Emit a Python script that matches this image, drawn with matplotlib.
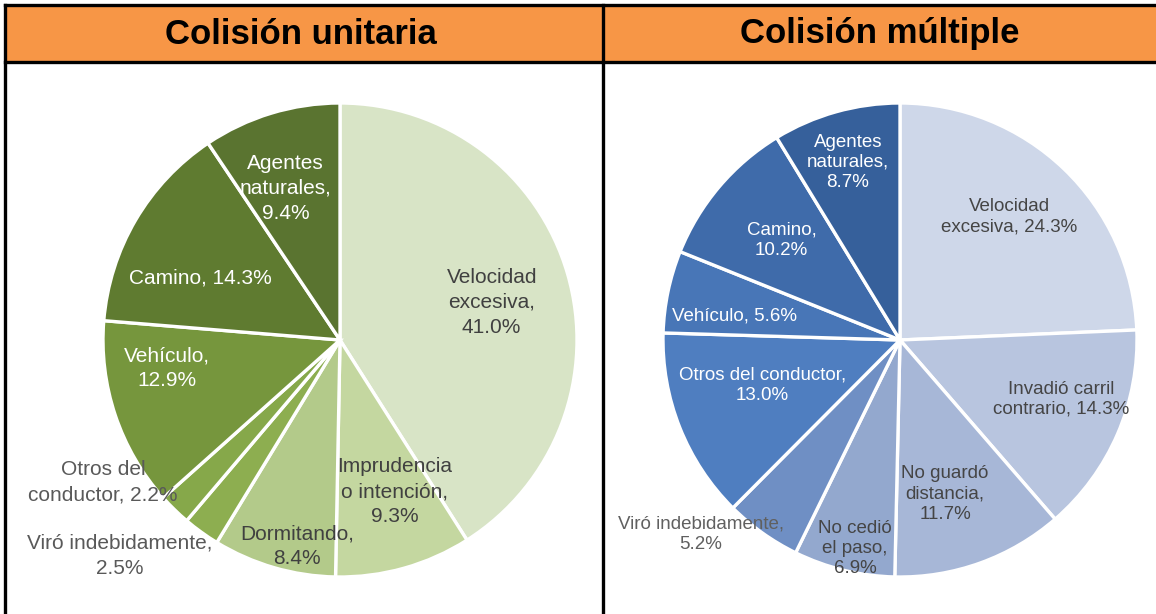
import matplotlib
matplotlib.use("Agg")
import matplotlib.pyplot as plt
from matplotlib.patches import Rectangle
from matplotlib.lines import Line2D

# ---------------- data ----------------
titles = ["Colisión unitaria", "Colisión múltiple"]

uni_labels = ["Velocidad\nexcesiva,\n41.0%", "Imprudencia\no intención,\n9.3%", "Dormitando,\n8.4%",
              "Viró indebidamente,\n2.5%", "Otros del\nconductor, 2.2%", "Vehículo,\n12.9%",
              "Camino, 14.3%", "Agentes\nnaturales,\n9.4%"]
uni_values = [41.0, 9.3, 8.4, 2.5, 2.2, 12.9, 14.3, 9.4]

mul_labels = ["Velocidad\nexcesiva, 24.3%", "Invadió carril\ncontrario, 14.3%", "No guardó\ndistancia,\n11.7%",
              "No cedió\nel paso,\n6.9%", "Viró indebidamente,\n5.2%", "Otros del conductor,\n13.0%",
              "Vehículo, 5.6%", "Camino,\n10.2%", "Agentes\nnaturales,\n8.7%"]
mul_values = [24.3, 14.3, 11.7, 6.9, 5.2, 13.0, 5.6, 10.2, 8.7]

# ---------------- styles ----------------
uni_colors = ["#D8E4C6", "#C4D7A0", "#B3CA8A", "#8DAE50", "#86A84A", "#76963D", "#5F7B30", "#5A7430"]
uni_text = ["#404040", "#404040", "#404040", "#595959", "#595959", "white", "white", "white"]
uni_pos = [(0.64, 0.16), (0.23, -0.64), (-0.18, -0.87), (-0.93, -0.91), (-1.00, -0.60),
           (-0.73, -0.12), (-0.59, 0.26), (-0.23, 0.64)]

mul_colors = ["#CED7E9", "#B8C5DF", "#A7B7D7", "#93A8CE", "#6F8FC4", "#4F7EC0", "#4876B7", "#3F6BAA", "#36609B"]
mul_text = ["#454545", "#454545", "#454545", "#454545", "#606060", "white", "white", "white", "white"]
mul_pos = [(0.46, 0.52), (0.68, -0.25), (0.19, -0.65), (-0.19, -0.88), (-0.84, -0.82),
           (-0.58, -0.19), (-0.70, 0.10), (-0.50, 0.42), (-0.22, 0.75)]

W, H = 1156, 614
fig = plt.figure(figsize=(W / 100, H / 100), dpi=100)
fig.patch.set_facecolor("white")

def fx(px):
    return px / W

def fy(py):
    return 1 - py / H

# header band
fig.patches.append(Rectangle((fx(5), fy(62)), 1 - fx(5), fy(5) - fy(62), transform=fig.transFigure,
                             facecolor="#F79646", edgecolor="none", zorder=0))
lw = 2.4
for (x0, y0, x1, y1) in [(5, 5, 1156, 5), (5, 62, 1156, 62), (5, 5, 5, 614), (603, 5, 603, 614)]:
    fig.add_artist(Line2D([fx(x0), fx(x1)], [fy(y0), fy(y1)], transform=fig.transFigure,
                          color="black", linewidth=lw, solid_capstyle="projecting"))

for cxp, t in zip([301, 880], titles):
    fig.text(fx(cxp), fy(34), t, ha="center", va="center", fontsize=25, fontweight="bold",
             family=["Liberation Sans", "DejaVu Sans"], color="black")

def draw_pie(cx, cy, r, values, labels, colors, tcolors, pos, fsize, fam, lsp):
    ax = fig.add_axes([fx(cx - r), fy(cy + r), (2 * r) / W, (2 * r) / H])
    ax.pie(values, colors=colors, startangle=90, counterclock=False, radius=1,
           wedgeprops=dict(edgecolor="white", linewidth=2.4))
    ax.set_xlim(-1.0, 1.0)
    ax.set_ylim(-1.0, 1.0)
    ax.set_aspect("equal")
    ax.axis("off")
    for lab, tc, (x, y) in zip(labels, tcolors, pos):
        ax.text(x, y, lab, ha="center", va="center", color=tc, fontsize=fsize,
                family=fam, linespacing=lsp, clip_on=False)
    return ax

draw_pie(340, 340, 237, uni_values, uni_labels, uni_colors, uni_text, uni_pos, 15,
         ["Liberation Sans", "DejaVu Sans"], 1.4)
draw_pie(900, 340, 237, mul_values, mul_labels, mul_colors, mul_text, mul_pos, 13.5,
         ["Liberation Sans", "DejaVu Sans"], 1.25)

fig.savefig("out.png", dpi=100, facecolor="white")
